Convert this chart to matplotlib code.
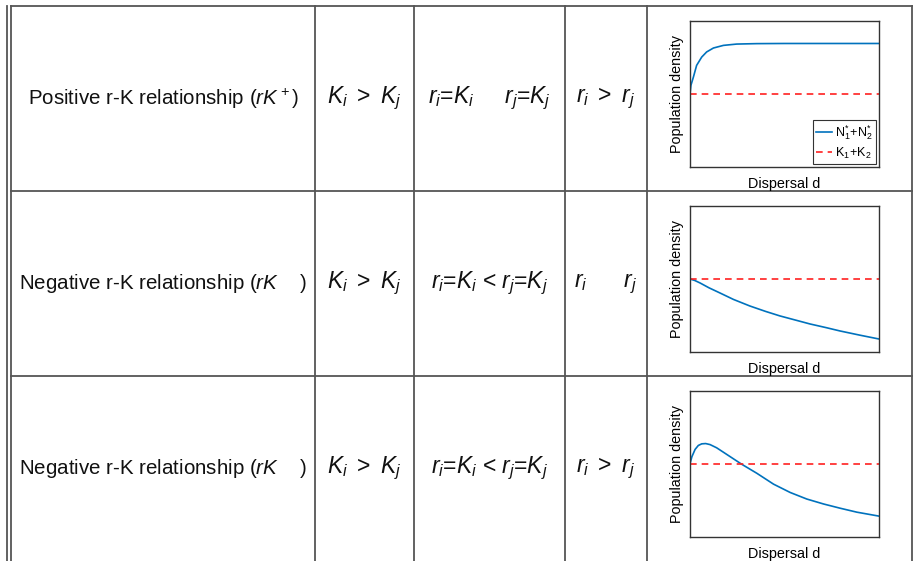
import numpy as np
import matplotlib.pyplot as plt

plt.rcParams['font.family'] = ['Liberation Sans', 'DejaVu Sans']
plt.rcParams['mathtext.fontset'] = 'custom'
plt.rcParams['mathtext.rm'] = 'Liberation Sans'
plt.rcParams['mathtext.it'] = 'Liberation Sans:italic'
plt.rcParams['mathtext.bf'] = 'Liberation Sans:bold'

# table text
row_labels = [r"Positive r-K relationship ($rK^+$)",
              r"Negative r-K relationship ($rK$    )",
              r"Negative r-K relationship ($rK$    )"]
k_cond = [r"$K_i\ >\ K_j$"] * 3
rk_cond = [r"$r_i$=$K_i$     $r_j$=$K_j$",
           r"$r_i$=$K_i$ < $r_j$=$K_j$",
           r"$r_i$=$K_i$ < $r_j$=$K_j$"]
r_cond = [r"$r_i\ >\ r_j$", r"$r_i\ \ \ \ \ \ r_j$", r"$r_i\ >\ r_j$"]

# curves (dispersal d vs total population density)
d1 = [0, 0.005, 0.018, 0.035, 0.062, 0.088, 0.124, 0.177, 0.247, 0.353, 0.5, 0.75, 1.0]
n1 = [0.5, 0.56, 0.616, 0.696, 0.753, 0.788, 0.815, 0.833, 0.842, 0.845, 0.846, 0.846, 0.846]

d2 = [0, 0.025, 0.053, 0.1, 0.159, 0.23, 0.317, 0.4, 0.476, 0.56, 0.635, 0.72, 0.794, 0.9, 1.0]
n2 = [0.5, 0.49, 0.473, 0.44, 0.404, 0.36, 0.315, 0.278, 0.247, 0.218, 0.192, 0.167, 0.144, 0.115, 0.089]

d3 = [0, 0.01, 0.027, 0.044, 0.062, 0.083, 0.106, 0.141, 0.194, 0.274, 0.353, 0.442,
      0.53, 0.618, 0.707, 0.795, 0.883, 1.0]
n3 = [0.502, 0.55, 0.6, 0.627, 0.638, 0.64, 0.633, 0.611, 0.566, 0.498, 0.437, 0.362,
      0.305, 0.26, 0.226, 0.197, 0.17, 0.143]

curves = [(d1, n1), (d2, n2), (d3, n3)]
k_sum = 0.5

W, H = 914, 561
fig = plt.figure(figsize=(W / 100, H / 100), dpi=100)

# background axes in pixel coordinates for the table grid
bg = fig.add_axes([0, 0, 1, 1])
bg.set_xlim(0, W)
bg.set_ylim(H, 0)
bg.axis('off')

col_x = [11, 315, 414, 565, 647, 912]
row_y = [6, 191, 376, 561]
grid_kw = dict(color='#555555', lw=1.3)

bg.plot([7, 7], [6, H], **grid_kw)
for x in col_x:
    bg.plot([x, x], [6, H], **grid_kw)
for y in row_y[:-1]:
    bg.plot([col_x[0], col_x[-1]], [y, y], **grid_kw)

for i in range(3):
    yc = (row_y[i] + row_y[i + 1]) / 2
    cells = [row_labels[i], k_cond[i], rk_cond[i], r_cond[i]]
    for j, txt in enumerate(cells):
        xc = (col_x[j] + col_x[j + 1]) / 2
        fs = 14.8 if j == 0 else 16.5
        bg.text(xc, yc, txt, ha='center', va='center', fontsize=fs, color='#111111')

# small plots
for i, (d, n) in enumerate(curves):
    top = 21 + 185 * i
    ax = fig.add_axes([690 / W, 1 - (top + 146) / H, 189 / W, 146 / H])
    ax.plot(d, n, color='#0072BD', lw=1.2, label=r"$\mathrm{N_1^{*}\!+\!N_2^{*}}$")
    ax.axhline(k_sum, color='#FF2020', ls=(0, (4, 3)), lw=1.2, label=r"$\mathrm{K_1\!+\!K_2}$")
    ax.set_xlim(0, 1)
    ax.set_ylim(0, 1)
    ax.set_xticks([])
    ax.set_yticks([])
    for s in ax.spines.values():
        s.set_color('#333333')
        s.set_linewidth(1.0)
    ax.set_xlabel("Dispersal d", fontsize=10.4, labelpad=7)
    ax.set_ylabel("Population density", fontsize=10.4, labelpad=4)
    if i == 0:
        leg = ax.legend(loc='lower right', fontsize=9, handlelength=1.3, handletextpad=0.2,
                        borderpad=0.25, labelspacing=0.3, fancybox=False, framealpha=1,
                        borderaxespad=0.25)
        leg.get_frame().set_edgecolor('#333333')
        leg.get_frame().set_linewidth(0.8)

fig.savefig("out.png", dpi=100)
